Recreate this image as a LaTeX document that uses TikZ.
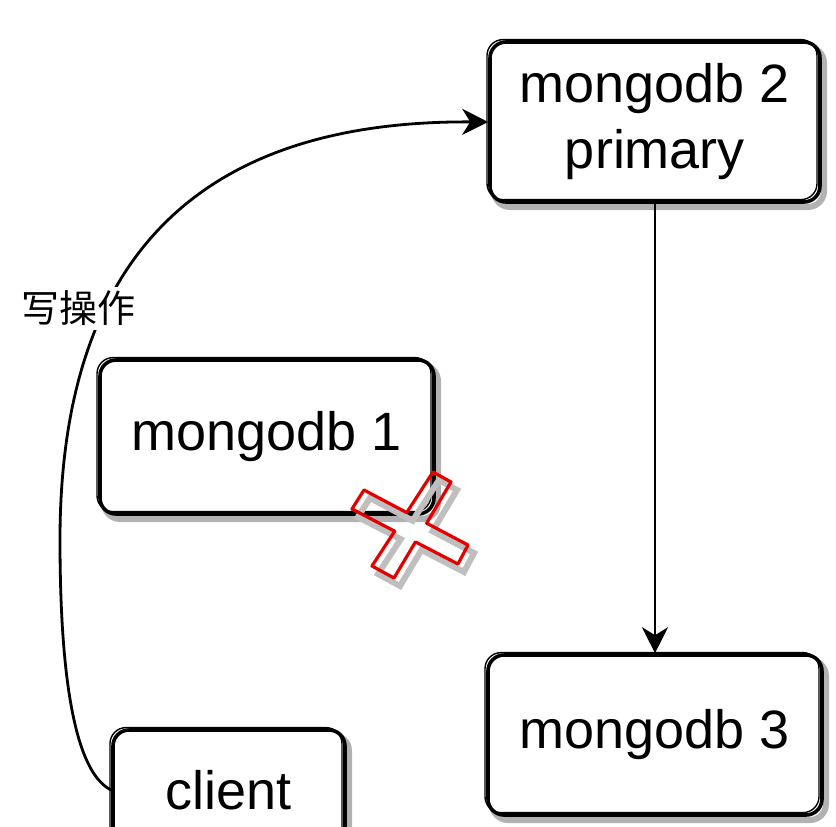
\documentclass[tikz,border=0pt]{standalone}
\usepackage{fontspec}
\setmainfont{Liberation Sans}
\newfontfamily\cjkfont{Noto Sans CJK SC}
\usetikzlibrary{arrows.meta,positioning}

\begin{document}
\begin{tikzpicture}[x=0.5pt,y=-0.5pt,
     >={Stealth[length=13pt,width=13pt,inset=4pt]},
     sketchbox/.style={draw,line width=1.8pt,rounded corners=8pt,fill=white,inner sep=0pt,align=center,
        font=\fontsize{27}{33}\selectfont,
        preaction={draw=black!30,line width=3pt,transform canvas={shift={(2pt,-2.5pt)}}},
        postaction={draw,line width=0.7pt,transform canvas={shift={(-1.5pt,1.2pt)}}}},
     edg/.style={line width=1.4pt,->},
     xmark/.style={draw=red!90!black,line width=1.6pt,line join=round,
        preaction={draw=black!25,line width=3pt,transform canvas={shift={(3pt,-4pt)}}}}]
    \clip (0,0) rectangle (836,826);
    \fill[white] (0,0) rectangle (836,826);
    \node[sketchbox,minimum width=165pt,minimum height=80pt] (m2) at (655,122) {mongodb 2\\primary};
    \node[sketchbox,minimum width=167pt,minimum height=77pt] (m1) at (267,437) {mongodb 1};
    \node[sketchbox,minimum width=167pt,minimum height=80pt] (m3) at (655,735) {mongodb 3};
    \node[sketchbox,minimum width=116pt,minimum height=60pt] (cl) at (229,790) {client};
    % failed node
    \coordinate (xa1) at (433,472);
    \coordinate (xa2) at (451,482);
    \coordinate (xa3) at (394,578);
    \coordinate (xa4) at (372,566);
    \coordinate (xb1) at (364,490);
    \coordinate (xb2) at (468,545);
    \coordinate (xb3) at (458,564);
    \coordinate (xb4) at (352,509);
    \draw[xmark] (xa1) -- (xa2) -- (intersection of xa2--xa3 and xb1--xb2) -- (xb2) -- (xb3)
       -- (intersection of xa2--xa3 and xb3--xb4) -- (xa3) -- (xa4)
       -- (intersection of xa4--xa1 and xb3--xb4) -- (xb4) -- (xb1)
       -- (intersection of xa4--xa1 and xb1--xb2) -- cycle;
    \draw[edg] (m2) -- (m3);
    \draw[edg] (cl.west) .. controls (80,775) and (60,700) .. (60,540)
       .. controls (60,300) and (160,120) .. (m2.west);
    \node[fill=white,inner sep=2pt,font=\cjkfont\fontsize{19}{22}\selectfont] (lbl) at (78,308) {写操作};
\end{tikzpicture}
\end{document}
